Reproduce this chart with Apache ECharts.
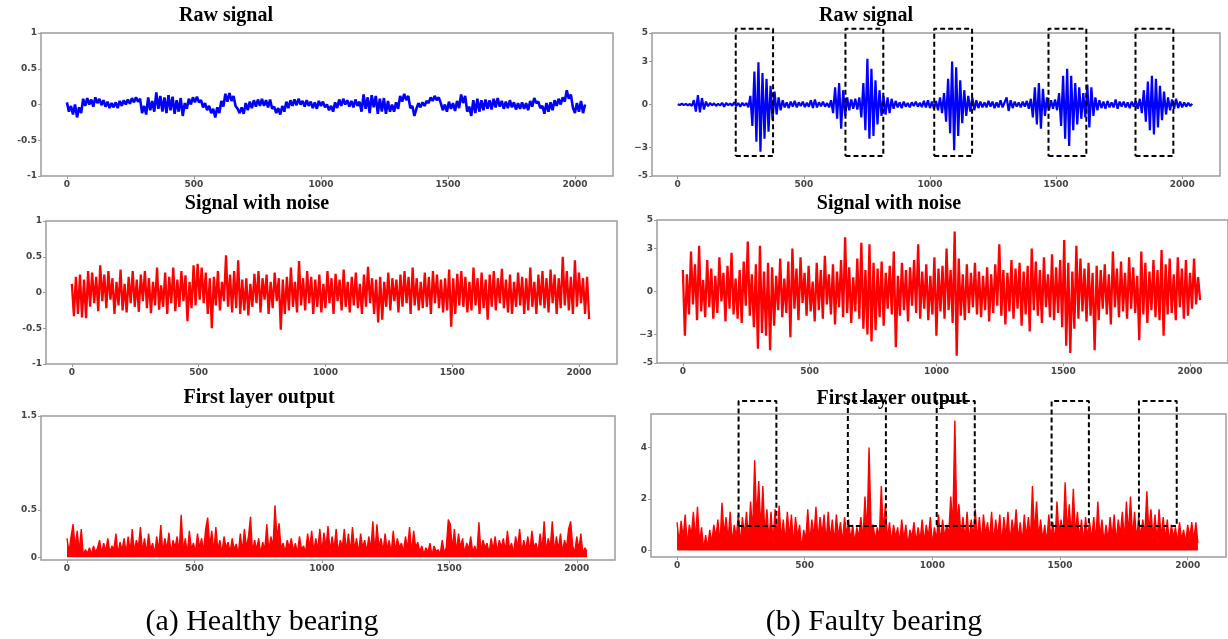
<!DOCTYPE html>
<html>
<head>
<meta charset="utf-8">
<script src="https://cdn.jsdelivr.net/npm/echarts@6/dist/echarts.min.js"></script>
<style>
  html, body { margin: 0; padding: 0; background: #fff; }
  #main { width: 1228px; height: 639px; }
</style>
</head>
<body>
<div id="main"></div>
<script>
// samples between two stored points
var stride = 8

// (a) healthy, raw signal
var rawHealthy = [
  0.03, -0.1, -0.02, -0.14, 0.0, -0.18, -0.04, -0.12, 0.08, -0.02, 0.09, 0.0, 0.07, -0.03, 0.1, 0.02,
  0.08, -0.01, 0.06, -0.03, 0.04, -0.05, 0.02, -0.04, 0.03, -0.05, 0.05, -0.02, 0.06, 0.0, 0.07, 0.01,
  0.09, 0.03, 0.1, 0.04, 0.08, -0.12, -0.02, -0.14, 0.1, -0.08, 0.05, -0.1, 0.17, -0.06, 0.12, -0.1,
  0.1, -0.12, 0.13, -0.08, 0.11, -0.13, 0.06, -0.1, 0.09, -0.16, 0.02, -0.06, 0.08, 0.0, 0.1, 0.03,
  0.11, 0.03, 0.06, -0.04, 0.02, -0.08, -0.02, -0.12, -0.06, -0.18, -0.04, -0.12, 0.05, -0.03, 0.15, 0.04,
  0.16, 0.05, 0.12, -0.02, -0.06, -0.12, -0.04, -0.13, 0.02, -0.08, 0.04, -0.05, 0.06, -0.03, 0.07, -0.02,
  0.08, -0.02, 0.06, -0.04, 0.07, -0.06, -0.03, -0.12, -0.05, -0.14, -0.02, -0.1, 0.04, -0.05, 0.06, -0.02,
  0.07, -0.01, 0.08, 0.0, 0.05, -0.03, 0.06, -0.02, 0.04, -0.05, 0.03, -0.06, 0.05, -0.02, 0.04, -0.04,
  0.0, -0.08, -0.02, -0.1, 0.03, -0.05, 0.07, -0.02, 0.08, 0.0, 0.06, -0.03, 0.05, -0.04, 0.07, -0.02,
  0.04, -0.1, 0.14, -0.06, 0.1, -0.12, 0.13, -0.04, 0.12, -0.13, 0.08, -0.1, 0.09, -0.13, 0.05, -0.1,
  0.0, -0.1, 0.03, -0.06, 0.12, 0.04, 0.15, 0.06, 0.12, -0.05, -0.02, -0.16, -0.06, 0.02, -0.04, 0.03,
  -0.02, 0.05, 0.02, 0.1, 0.05, 0.12, 0.06, 0.1, 0.02, -0.08, 0.0, -0.1, 0.04, -0.06, 0.02, -0.09,
  0.05, -0.05, 0.14, 0.02, 0.12, -0.1, -0.03, -0.16, 0.06, -0.12, 0.08, -0.1, 0.06, -0.08, 0.07, -0.06,
  0.06, -0.07, 0.08, -0.04, 0.09, -0.03, 0.05, -0.06, 0.04, -0.05, 0.06, -0.04, 0.03, -0.07, 0.02, -0.06,
  0.03, -0.06, 0.02, -0.08, 0.05, -0.03, 0.09, 0.02, 0.04, -0.05, -0.02, -0.13, 0.02, -0.1, 0.03, -0.08,
  0.06, -0.02, 0.08, 0.0, 0.1, 0.04, 0.2, 0.08, 0.14, -0.04, -0.12, 0.02, -0.1, 0.05, -0.12, 0.0
]

// (b) faulty, raw signal
var rawFaulty = [
  0.02, -0.04, 0.05, -0.03, 0.04, -0.05, 0.03,
  -0.1, 0.3, -0.5, 0.65, -0.55, 0.45, -0.35, 0.2, -0.12, 0.1,
  -0.06, 0.08, -0.1, 0.05, -0.07, 0.12, -0.15, 0.1, -0.05, 0.06, -0.08,
  0.15, -0.12, 0.1, -0.15, 0.12, -0.08, 0.1, -0.2,
  0.6, -1.5, 2.3, -2.6, 2.95, -3.3, 2.2, -2.4, 1.8, -1.9, 1.3, -1.1, 0.9, -0.7, 0.5, -0.4, 0.3,
  -0.2, 0.15, -0.25, 0.2, -0.15, 0.25, -0.2, 0.15, -0.1, 0.2, -0.18, 0.12, -0.15, 0.3, -0.25, 0.35, -0.2, 0.15, -0.12, 0.2, -0.15, 0.1, -0.2,
  0.3, -0.6, 1.2, -1.0, 1.5, -1.7, 1.0, -0.8, 0.5, -0.4, 0.35, -0.3, 0.4, -0.35, 0.5,
  -0.9, 1.5, -1.8, 3.2, -2.4, 2.5, -2.2, 1.7, -1.4, 1.0, -0.8, 0.6, -0.7, 0.5, -0.6, 0.4, -0.3,
  0.25, -0.2, 0.15, -0.25, 0.2, -0.15, 0.1, -0.2, 0.15, -0.1, 0.2, -0.15, 0.12, -0.18, 0.25, -0.2, 0.3, -0.25, 0.2, -0.3, 0.25,
  -0.4, 0.5, -0.6, 0.8, -1.2, 1.8, -2.0, 3.0, -3.2, 2.6, -2.2, 1.7, -1.3, 1.0, -0.8, 0.6, -0.5, 0.5, -0.4,
  0.3, -0.25, 0.2, -0.2, 0.15, -0.2, 0.25, -0.15, 0.2, -0.25, 0.15, -0.2, 0.3, -0.2, 0.15,
  0.5, -0.45, 0.3, -0.25,
  0.2, -0.15, 0.15, -0.2, 0.2, -0.15, 0.25, -0.3, 0.4,
  -0.9, 1.2, -1.4, 1.5, -1.7, 1.1, -0.8, 0.5, -0.4, 0.3, -0.3, 0.35, -0.4,
  0.8, -1.5, 2.0, -2.4, 2.5, -2.9, 2.0, -1.8, 1.5, -1.4, 1.2, -1.0, 0.8, -0.9, 1.4, -1.6, 1.2, -0.8, 0.5, -0.4,
  0.3, -0.25, 0.2, -0.3, 0.25, -0.2, 0.15, -0.2, 0.35, -0.3, 0.2, -0.15, 0.2, -0.2, 0.15, -0.25, 0.2, -0.15, 0.25, -0.3,
  0.4, -0.6, 1.0, -1.2, 1.6, -1.8, 2.0, -2.1, 1.8, -1.6, 1.3, -1.1, 0.9, -0.7, 0.5, -0.4,
  0.35, -0.3, 0.4, -0.25, 0.2, -0.2, 0.15, -0.15, 0.12, -0.1, 0.05
]

// (a) healthy, signal with noise
var noiseHealthy = [
  0.12, -0.33, 0.22, -0.3, 0.25, -0.35, 0.18, -0.36, 0.3, -0.2, 0.28, -0.15, 0.22, -0.26, 0.38, -0.12,
  0.25, -0.22, 0.3, -0.1, 0.2, -0.3, 0.15, -0.18, 0.32, -0.25, 0.12, -0.28, 0.22, -0.15, 0.3, -0.2,
  0.18, -0.27, 0.25, -0.12, 0.3, -0.22, 0.2, -0.29, 0.15, -0.18, 0.35, -0.24, 0.1, -0.2, 0.28, -0.3,
  0.22, -0.15, 0.35, -0.26, 0.18, -0.2, 0.3, -0.12, 0.24, -0.4, 0.15, -0.22, 0.38, -0.18, 0.4, -0.1,
  0.35, -0.15, 0.28, -0.3, 0.2, -0.5, 0.22, -0.18, 0.3, -0.25, 0.15, -0.12, 0.52, -0.2, 0.25, -0.28,
  0.3, -0.22, 0.45, -0.3, 0.18, -0.25, 0.2, -0.32, 0.12, -0.2, 0.26, -0.15, 0.3, -0.28, 0.2, -0.1,
  0.25, -0.3, 0.15, -0.22, 0.28, -0.12, 0.2, -0.52, 0.18, -0.3, 0.22, -0.25, 0.35, -0.2, 0.15, -0.28,
  0.44, -0.18, 0.2, -0.25, 0.3, -0.15, 0.22, -0.3, 0.18, -0.2, 0.25, -0.28, 0.12, -0.22, 0.3, -0.15,
  0.2, -0.3, 0.26, -0.12, 0.18, -0.25, 0.32, -0.2, 0.15, -0.28, 0.22, -0.18, 0.28, -0.22, 0.12, -0.3,
  0.25, -0.2, 0.36, -0.15, 0.2, -0.3, 0.18, -0.42, 0.22, -0.38, 0.15, -0.2, 0.28, -0.25, 0.2, -0.12,
  0.18, -0.28, 0.25, -0.2, 0.3, -0.15, 0.22, -0.3, 0.35, -0.18, 0.2, -0.25, 0.15, -0.22, 0.28, -0.2,
  0.22, -0.3, 0.3, -0.15, 0.25, -0.22, 0.18, -0.28, 0.2, -0.25, 0.32, -0.48, 0.2, -0.3, 0.26, -0.18,
  0.3, -0.2, 0.22, -0.28, 0.15, -0.25, 0.35, -0.18, 0.2, -0.3, 0.28, -0.22, 0.18, -0.38, 0.25, -0.2,
  0.3, -0.25, 0.2, -0.15, 0.33, -0.22, 0.18, -0.28, 0.25, -0.3, 0.15, -0.2, 0.28, -0.18, 0.22, -0.3,
  0.2, -0.25, 0.35, -0.2, 0.15, -0.3, 0.25, -0.18, 0.3, -0.22, 0.2, -0.28, 0.32, -0.15, 0.25, -0.3,
  0.2, -0.22, 0.5, -0.18, 0.3, -0.25, 0.22, -0.3, 0.45, -0.2, 0.28, -0.15, 0.2, -0.3, 0.22, -0.37
]

// (b) faulty, signal with noise
var noiseFaulty = [
  1.5, -3.1, 1.2, -1.6, 2.8, -0.9, 1.9, -2.0, 3.2, -1.4, 0.8, -1.8, 2.2, -1.1, 1.6, -1.9,
  1.1, -1.5, 2.4, -0.7, 1.3, -2.1, 1.8, -1.2, 2.7, -1.6, 0.9, -1.9, 1.5, -2.2, 2.1, -1.0,
  3.5, -1.7, 1.2, -2.5, 1.9, -4.0, 3.2, -2.9, 1.4, -3.1, 2.0, -4.1, 1.7, -2.4, 1.1, -1.3,
  2.3, -1.8, 0.9, -1.5, 2.1, -3.2, 3.0, -1.2, 1.6, -2.0, 2.4, -0.8, 1.3, -1.7, 1.8, -1.4,
  0.7, -2.1, 2.0, -1.3, 1.5, -1.9, 2.5, -0.9, 1.2, -1.6, 1.9, -2.3, 1.4, -1.1, 2.2, -1.8,
  3.8, -1.5, 1.7, -2.2, 1.0, -1.4, 2.3, -1.9, 3.4, -2.6, 1.5, -3.0, 3.3, -3.5, 2.0, -2.7,
  1.6, -1.8, 2.1, -2.4, 1.3, -1.2, 1.8, -1.6, 2.8, -3.9, 1.1, -1.7, 2.0, -1.3, 1.5, -2.1,
  1.7, -1.0, 2.2, -1.5, 3.3, -1.9, 1.4, -1.2, 1.9, -2.0, 1.1, -1.6, 2.4, -3.1, 1.6, -1.4,
  1.8, -1.9, 3.0, -1.3, 1.5, -2.2, 4.2, -4.5, 2.3, -1.7, 1.2, -2.0, 1.9, -1.5, 1.3, -1.1,
  2.0, -1.6, 1.4, -1.8, 1.1, -1.3, 1.7, -2.1, 1.2, -1.5, 1.9, -1.0, 3.3, -1.7, 1.5, -2.3,
  1.3, -1.4, 2.2, -1.9, 1.6, -1.2, 2.0, -2.4, 1.4, -1.6, 1.8, -2.8, 3.0, -1.3, 2.1, -1.7,
  1.5, -2.2, 2.4, -1.1, 1.2, -1.8, 2.6, -2.0, 1.7, -1.5, 2.2, -2.5, 3.6, -3.8, 2.0, -4.3,
  1.4, -2.6, 3.2, -1.9, 2.3, -1.4, 1.6, -2.1, 2.0, -1.7, 1.3, -4.1, 1.8, -2.0, 1.5, -1.2,
  1.9, -1.6, 1.2, -2.3, 2.8, -1.1, 1.6, -1.8, 2.1, -1.4, 1.3, -1.9, 2.4, -1.2, 1.7, -1.5,
  1.1, -3.4, 2.8, -1.6, 2.0, -2.2, 1.4, -1.3, 2.2, -1.8, 1.5, -2.0, 2.9, -3.1, 1.9, -1.6,
  2.3, -1.5, 1.2, -2.0, 2.4, -1.1, 1.6, -1.9, 2.2, -1.7, 1.3, -1.2, 2.3, -0.9, 1.0, -0.6
]

// (a) healthy, first layer output
var layerHealthy = [
  0.2, 0.05, 0.22, 0.35, 0.1, 0.28, 0.06, 0.3, 0.02, 0.08, 0.04, 0.1, 0.03, 0.12, 0.05, 0.1,
  0.18, 0.04, 0.15, 0.06, 0.2, 0.05, 0.12, 0.08, 0.25, 0.03, 0.16, 0.07, 0.2, 0.04, 0.22, 0.06,
  0.3, 0.05, 0.18, 0.1, 0.32, 0.06, 0.2, 0.04, 0.25, 0.08, 0.15, 0.03, 0.22, 0.07, 0.34, 0.05,
  0.2, 0.08, 0.26, 0.04, 0.18, 0.1, 0.22, 0.05, 0.45, 0.06, 0.2, 0.03, 0.28, 0.08, 0.15, 0.05,
  0.25, 0.1, 0.2, 0.06, 0.3, 0.42, 0.12, 0.28, 0.05, 0.32, 0.08, 0.18, 0.04, 0.22, 0.1, 0.16,
  0.05, 0.2, 0.08, 0.14, 0.03, 0.25, 0.06, 0.3, 0.1, 0.22, 0.43, 0.05, 0.18, 0.08, 0.2, 0.04,
  0.16, 0.08, 0.35, 0.06, 0.22, 0.1, 0.55, 0.2, 0.36, 0.08, 0.15, 0.05, 0.18, 0.1, 0.2, 0.06,
  0.15, 0.04, 0.22, 0.08, 0.12, 0.05, 0.25, 0.1, 0.28, 0.06, 0.2, 0.08, 0.3, 0.05, 0.26, 0.1,
  0.33, 0.06, 0.22, 0.08, 0.3, 0.04, 0.18, 0.1, 0.3, 0.06, 0.25, 0.05, 0.32, 0.08, 0.2, 0.04,
  0.25, 0.1, 0.18, 0.06, 0.22, 0.08, 0.38, 0.05, 0.35, 0.1, 0.2, 0.06, 0.25, 0.08, 0.18, 0.04,
  0.28, 0.06, 0.2, 0.1, 0.15, 0.05, 0.22, 0.08, 0.32, 0.04, 0.28, 0.1, 0.16, 0.06, 0.12, 0.03,
  0.1, 0.05, 0.15, 0.02, 0.12, 0.06, 0.08, 0.03, 0.18, 0.05, 0.1, 0.4, 0.35, 0.08, 0.3, 0.05,
  0.25, 0.1, 0.2, 0.04, 0.15, 0.08, 0.22, 0.05, 0.12, 0.03, 0.37, 0.06, 0.18, 0.1, 0.15, 0.04,
  0.2, 0.08, 0.22, 0.05, 0.18, 0.1, 0.2, 0.06, 0.28, 0.08, 0.15, 0.04, 0.22, 0.1, 0.3, 0.05,
  0.18, 0.08, 0.22, 0.06, 0.28, 0.1, 0.15, 0.05, 0.25, 0.08, 0.38, 0.06, 0.2, 0.1, 0.38, 0.05,
  0.22, 0.08, 0.25, 0.05, 0.18, 0.1, 0.3, 0.38, 0.12, 0.05, 0.22, 0.08, 0.25, 0.04, 0.1, 0.06
]

// (b) faulty, first layer output
var layerFaulty = [
  1.1, 0.3, 1.15, 0.5, 1.4, 0.2, 1.0, 0.6, 1.5, 0.4, 1.7, 0.3, 0.9, 0.05, 0.6, 0.1,
  0.8, 0.3, 1.0, 0.5, 1.2, 0.2, 1.85, 0.6, 1.3, 0.4, 1.5, 0.3, 1.0, 0.5, 1.4, 0.2,
  1.3, 0.6, 1.5, 0.4, 1.9, 0.7, 3.5, 1.2, 2.7, 0.8, 2.5, 0.6, 1.6, 0.4, 1.5, 0.3,
  1.6, 0.5, 1.75, 0.4, 1.2, 0.3, 1.5, 0.5, 1.4, 0.2, 1.3, 0.5, 1.0, 0.05, 0.8, 0.4,
  1.6, 0.3, 1.2, 0.5, 1.7, 0.4, 1.3, 0.6, 1.4, 0.3, 1.5, 0.4, 1.2, 0.3, 1.4, 0.5,
  1.1, 0.3, 1.3, 0.6, 1.2, 0.4, 1.0, 0.3, 0.9, 0.5, 1.3, 0.4, 2.1, 0.6, 4.0, 0.9,
  1.0, 0.4, 0.9, 0.5, 2.5, 0.7, 1.8, 0.4, 1.1, 0.3, 1.0, 0.5, 0.9, 0.3, 1.2, 0.4,
  1.0, 0.2, 0.8, 0.5, 1.1, 0.3, 0.9, 0.4, 1.2, 0.3, 1.0, 0.5, 1.3, 0.2, 0.9, 0.4,
  1.4, 0.3, 1.2, 0.5, 1.0, 0.6, 2.1, 0.9, 5.05, 1.0, 1.8, 0.5, 1.3, 0.4, 1.5, 0.3,
  1.2, 0.5, 1.6, 0.4, 1.3, 0.3, 1.4, 0.6, 1.1, 0.4, 1.5, 0.3, 1.2, 0.5, 1.4, 0.2,
  1.3, 0.5, 1.5, 0.3, 1.2, 0.6, 1.6, 0.4, 1.1, 0.3, 1.4, 0.5, 1.3, 0.4, 2.5, 0.6,
  1.9, 0.5, 1.2, 0.4, 1.0, 0.3, 1.4, 0.5, 1.1, 0.3, 1.9, 0.6, 1.2, 0.5, 2.65, 0.7,
  1.8, 0.5, 2.4, 0.6, 1.5, 0.4, 1.2, 0.3, 1.3, 0.5, 1.1, 0.4, 1.3, 0.3, 1.9, 0.5,
  1.2, 0.3, 1.0, 0.4, 1.3, 0.5, 1.4, 0.3, 1.2, 0.6, 1.5, 0.4, 1.9, 0.6, 2.1, 0.5,
  1.5, 0.4, 1.3, 0.5, 1.2, 0.6, 2.3, 0.7, 1.6, 0.5, 1.4, 0.3, 1.6, 0.5, 1.3, 0.4,
  1.2, 0.3, 1.0, 0.5, 0.9, 0.3, 1.1, 0.4, 0.8, 0.3, 1.0, 0.5, 1.1, 0.4, 1.1, 0.3
]

// tick values
var xTicks = [0, 500, 1000, 1500, 2000]
var yTicksHealthy = [-1, -0.5, 0, 0.5, 1]
var yTicksLayerHealthy = [0, 0.5, 1.5]
var yTicksFaulty = [-5, -3, 0, 3, 5]
var yTicksLayerFaulty = [0, 2, 4]

// dashed fault boxes (sample index range, value range)
var boxRawX = [[230, 378], [665, 815], [1017, 1167], [1470, 1620], [1815, 1965]]
var boxRawY = [-3.6, 5.3]
var boxLayerX = [[241, 389], [669, 818], [1017, 1166], [1467, 1613], [1809, 1957]]
var boxLayerY = [0.95, 5.8]

var chart = echarts.init(document.getElementById('main'), null, { renderer: 'canvas' })

var labelStyle = {
  fontSize: 9,
  fontWeight: 'bold',
  color: '#444',
  fontFamily: 'DejaVu Sans'
}

// 0 TL, 1 TR, 2 ML, 3 MR, 4 BL, 5 BR
var grids = [
  { left: 41, top: 33, width: 572, height: 143 },
  { left: 652, top: 33, width: 568, height: 143 },
  { left: 46, top: 221, width: 571, height: 143 },
  { left: 657, top: 220, width: 571, height: 143 },
  { left: 41, top: 416, width: 574, height: 144 },
  { left: 651, top: 414, width: 575, height: 143 }
].map(function (g) {
  g.show = true
  g.borderColor = '#9c9c9c'
  g.borderWidth = 1.5
  return g
})

function makeX(i) {
  return {
    type: 'value',
    gridIndex: i,
    min: -102,
    max: 2150,
    axisLine: { show: false, onZero: false },
    axisTick: { show: true, length: 3, customValues: xTicks, lineStyle: { color: '#999' } },
    axisLabel: Object.assign({
      customValues: xTicks,
      margin: 4,
      formatter: function (v) { return String(v) }
    }, labelStyle),
    splitLine: { show: false }
  }
}

function makeY(i, min, max, ticks) {
  return {
    type: 'value',
    gridIndex: i,
    min: min,
    max: max,
    axisLine: { show: false, onZero: false },
    axisTick: { show: true, length: 3, customValues: ticks, lineStyle: { color: '#999' } },
    axisLabel: Object.assign({
      customValues: ticks,
      margin: 4,
      formatter: function (v) { return v === -3 ? '\u22123' : String(v) }
    }, labelStyle),
    splitLine: { show: false }
  }
}

function signal(data, idx, color, width, fill) {
  var s = {
    type: 'line',
    xAxisIndex: idx,
    yAxisIndex: idx,
    data: data.map(function (v, i) { return [i * stride, v] }),
    symbol: 'none',
    silent: true,
    lineStyle: { color: color, width: width, join: 'bevel' }
  }
  if (fill) s.areaStyle = { color: color, opacity: 1 }
  return s
}

function boxes(xr, yr, idx) {
  return xr.map(function (r) {
    return {
      type: 'line',
      xAxisIndex: idx,
      yAxisIndex: idx,
      clip: false,
      silent: true,
      symbol: 'none',
      z: 5,
      data: [[r[0], yr[0]], [r[1], yr[0]], [r[1], yr[1]], [r[0], yr[1]], [r[0], yr[0]]],
      lineStyle: { color: '#000', width: 2, type: [5, 3] }
    }
  })
}

function text(str, x, y, size, bold) {
  return {
    type: 'text',
    x: x,
    y: y,
    z: 10,
    style: {
      text: str,
      fill: '#000',
      fontSize: size,
      fontWeight: bold ? 'bold' : 'normal',
      fontFamily: 'Liberation Serif',
      align: 'center',
      verticalAlign: 'middle'
    }
  }
}

var series = [
  signal(rawHealthy, 0, '#0000ff', 2.6, false),
  signal(rawFaulty, 1, '#0000ff', 2.2, false),
  signal(noiseHealthy, 2, '#ff0000', 2.3, false),
  signal(noiseFaulty, 3, '#ff0000', 2.3, false),
  signal(layerHealthy, 4, '#ff0000', 1.4, true),
  signal(layerFaulty, 5, '#ff0000', 1.4, true)
].concat(boxes(boxRawX, boxRawY, 1), boxes(boxLayerX, boxLayerY, 5))

var option = {
  animation: false,
  backgroundColor: '#fff',
  grid: grids,
  xAxis: [0, 1, 2, 3, 4, 5].map(makeX),
  yAxis: [
    makeY(0, -1, 1, yTicksHealthy),
    makeY(1, -5, 5, yTicksFaulty),
    makeY(2, -1, 1, yTicksHealthy),
    makeY(3, -5, 5, yTicksFaulty),
    makeY(4, -0.03, 1.5, yTicksLayerHealthy),
    makeY(5, -0.25, 5.3, yTicksLayerFaulty)
  ],
  series: series,
  graphic: [
    text('Raw signal', 226, 16, 20, true),
    text('Raw signal', 866, 16, 20, true),
    text('Signal with noise', 257, 204, 20, true),
    text('Signal with noise', 889, 204, 20, true),
    text('First layer output', 259, 398, 20, true),
    text('First layer output', 892, 399, 20, true),
    text('(a) Healthy bearing', 262, 622, 30, false),
    text('(b) Faulty bearing', 874, 622, 30, false)
  ]
}

chart.setOption(option)
window.addEventListener('resize', function () {
  chart.resize()
})
</script>
</body>
</html>
